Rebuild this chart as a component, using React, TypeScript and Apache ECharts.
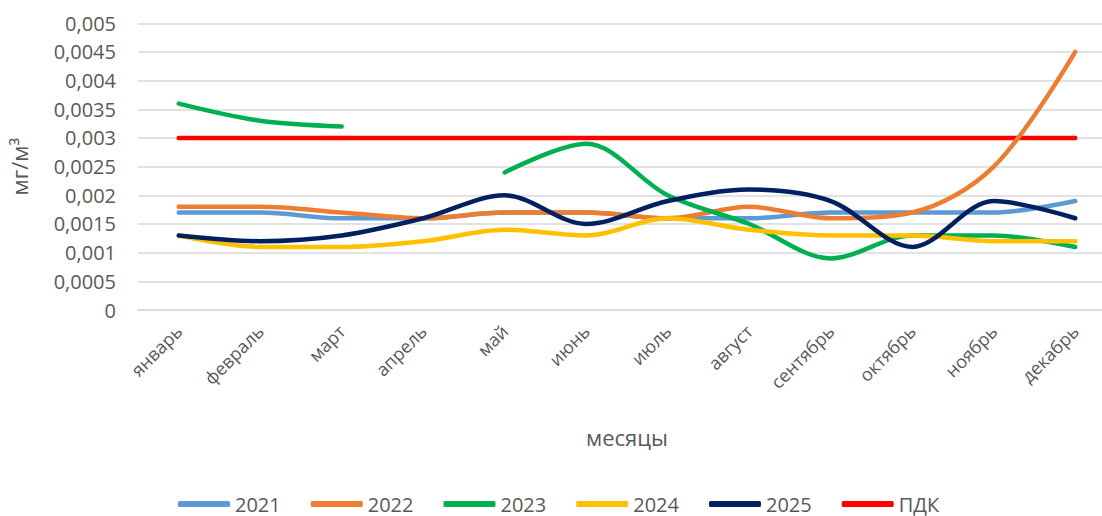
import React, { useEffect, useRef } from "react";
import * as echarts from "echarts";

const months = ["январь", "февраль", "март", "апрель", "май", "июнь", "июль", "август", "сентябрь", "октябрь", "ноябрь", "декабрь"];
const s2021 = [0.0017, 0.0017, 0.0016, 0.0016, 0.0017, 0.0017, 0.0016, 0.0016, 0.0017, 0.0017, 0.0017, 0.0019];
const s2022 = [0.0018, 0.0018, 0.0017, 0.0016, 0.0017, 0.0017, 0.0016, 0.0018, 0.0016, 0.0017, 0.0025, 0.0045];
const s2023 = [0.0036, 0.0033, 0.0032, null, 0.0024, 0.0029, 0.0020, 0.0015, 0.0009, 0.0013, 0.0013, 0.0011];
const s2024 = [0.0013, 0.0011, 0.0011, 0.0012, 0.0014, 0.0013, 0.0016, 0.0014, 0.0013, 0.0013, 0.0012, 0.0012];
const s2025 = [0.0013, 0.0012, 0.0013, 0.0016, 0.0020, 0.0015, 0.0019, 0.0021, 0.0019, 0.0011, 0.0019, 0.0016];
const pdk = [0.003, 0.003, 0.003, 0.003, 0.003, 0.003, 0.003, 0.003, 0.003, 0.003, 0.003, 0.003];

const FONT = "Open Sans";
const TXT = "#595959";

export default function App() {
  const ref = useRef<HTMLDivElement>(null);
  useEffect(() => {
    if (!ref.current) return;
    const chart = echarts.init(ref.current, undefined, { renderer: "svg" });
    const mk = (name: string, data: (number | null)[], color: string) => ({
      name,
      type: "line",
      data,
      smooth: 0.33,
      showSymbol: false,
      symbol: "none",
      connectNulls: false,
      lineStyle: { color, width: 4.5, cap: "round", join: "round" },
      itemStyle: { color },
    });
    chart.setOption({
      animation: false,
      textStyle: { fontFamily: FONT },
      grid: { left: 134, top: 23.3, width: 982, height: 286.7, containLabel: false },
      legend: {
        left: 178,
        top: 493,
        icon: "roundRect",
        itemWidth: 52,
        itemHeight: 6,
        itemGap: 30,
        padding: 0,
        data: ["2021", "2022", "2023", "2024", "2025", "ПДК"],
        textStyle: { color: TXT, fontSize: 20, fontFamily: FONT, lineHeight: 22 },
      },
      xAxis: {
        type: "category",
        data: months,
        boundaryGap: true,
        axisLine: { show: true, lineStyle: { color: "#D9D9D9", width: 1.5 } },
        axisTick: { show: false },
        axisLabel: { rotate: 45, color: TXT, fontSize: 18, margin: 18, fontFamily: FONT, interval: 0 },
        name: "месяцы",
        nameLocation: "middle",
        nameGap: 116,
        nameTextStyle: { color: TXT, fontSize: 22, fontFamily: FONT },
      },
      yAxis: {
        type: "value",
        min: 0,
        max: 0.005,
        interval: 0.0005,
        axisLine: { show: false },
        axisTick: { show: false },
        splitLine: { lineStyle: { color: "#D9D9D9", width: 1.5 } },
        axisLabel: {
          color: TXT,
          fontSize: 20,
          margin: 22,
          fontFamily: FONT,
          formatter: (v: number) => parseFloat(v.toFixed(4)).toString().replace(".", ","),
        },
        name: "мг/м³",
        nameLocation: "middle",
        nameGap: 108,
        nameTextStyle: { color: TXT, fontSize: 22, fontFamily: FONT },
      },
      series: [
        mk("ПДК", pdk, "#FF0000"),
        mk("2021", s2021, "#5B9BD5"),
        mk("2022", s2022, "#ED7D31"),
        mk("2023", s2023, "#00B050"),
        mk("2024", s2024, "#FFC000"),
        mk("2025", s2025, "#002060"),
      ],
    });
    return () => chart.dispose();
  }, []);
  return (
    <div style={{ position: "absolute", left: 0, top: 0, width: 1102, height: 516, overflow: "hidden" }}>
      <div ref={ref} style={{ position: "absolute", left: 0, top: 0, width: 1120, height: 516 }} />
    </div>
  );
}
